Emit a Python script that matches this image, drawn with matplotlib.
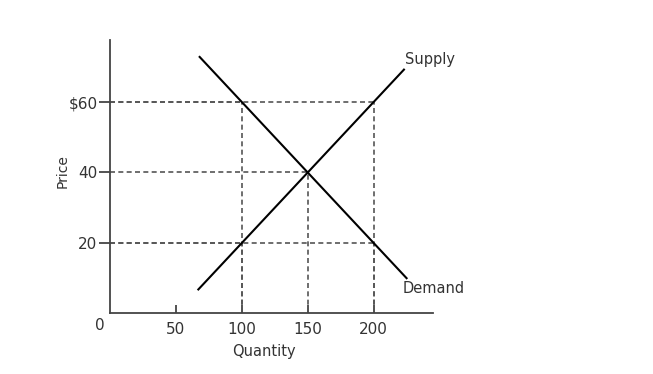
import matplotlib.pyplot as plt

quantity_ticks = [50, 100, 150, 200]
price_ticks = [20, 40, 60]
price_tick_labels = ["20", "40", "$60"]

supply_q = [67, 223]
supply_p = [6.8, 69.2]
demand_q = [68, 225]
demand_p = [72.8, 10.0]

# reference points on the curves (quantity, price)
guide_points = [(100, 60), (150, 40), (200, 60), (200, 20), (100, 20)]

text_color = "#333333"
plt.rcParams['font.family'] = ['DejaVu Sans']

fig = plt.figure(figsize=(6.53, 3.74), dpi=100)
ax = fig.add_axes([0.1685, 0.162, 0.4945, 0.731])

ax.set_xlim(0, 245)
ax.set_ylim(0, 77.6)

dash = dict(color="#555555", linewidth=1.2, linestyle=(0, (3, 2)))
for q, p in guide_points:
    ax.plot([0, q], [p, p], **dash)
    ax.plot([q, q], [0, p], **dash)

ax.plot(supply_q, supply_p, color="black", linewidth=1.5)
ax.plot(demand_q, demand_p, color="black", linewidth=1.5)

ax.text(supply_q[1] + 0.5, supply_p[1] + 2.8, "Supply", fontsize=10.5,
        color=text_color, ha="left", va="center")
ax.text(demand_q[1] - 3, demand_p[1] - 2.8, "Demand", fontsize=10.5,
        color=text_color, ha="left", va="center")

for side in ["top", "right"]:
    ax.spines[side].set_visible(False)
for side in ["left", "bottom"]:
    ax.spines[side].set_color("#444444")
    ax.spines[side].set_linewidth(1.3)

ax.set_xticks(quantity_ticks)
ax.set_xticklabels([str(q) for q in quantity_ticks])
ax.set_yticks(price_ticks)
ax.set_yticklabels(price_tick_labels)
ax.tick_params(axis="x", direction="in", length=6, width=1.3, color="#444444",
               pad=6, labelsize=11, labelcolor=text_color)
ax.tick_params(axis="y", direction="out", length=8, width=1.3, color="#444444",
               pad=1, labelsize=11, labelcolor=text_color)

ax.text(-7.6, -3.4, "0", fontsize=11, color=text_color, ha="center", va="center")
ax.set_xlabel("Quantity", fontsize=10.5, color=text_color)
ax.xaxis.set_label_coords(117 / 245, -0.112)
ax.set_ylabel("Price", fontsize=10, color=text_color)
ax.yaxis.set_label_coords(-0.126, 0.52)

fig.savefig("out.png", dpi=100)
